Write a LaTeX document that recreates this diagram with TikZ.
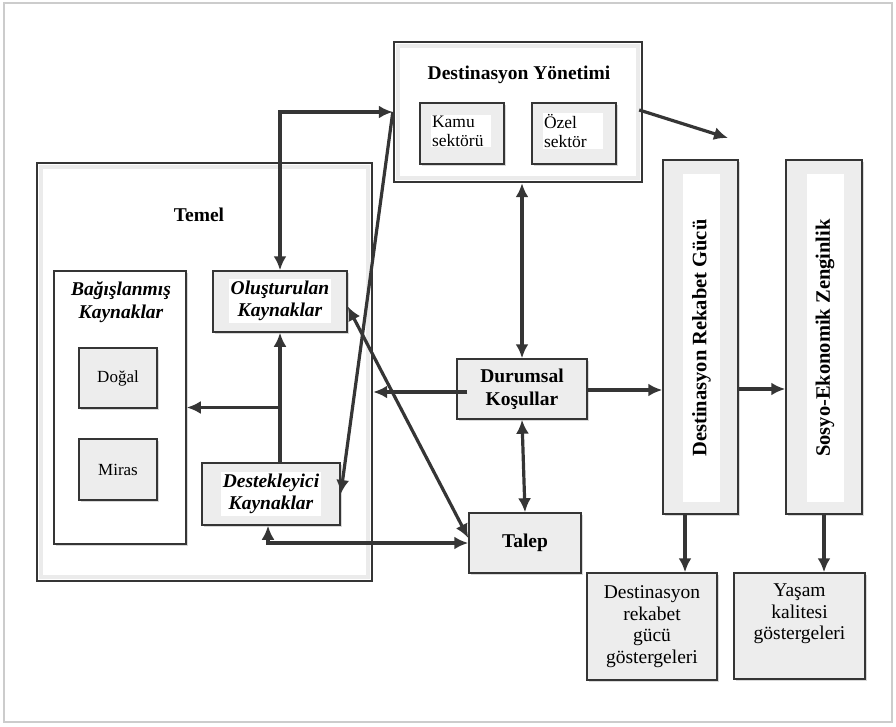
\documentclass[tikz,border=0pt]{standalone}
\usepackage{fontspec}
\setmainfont{Liberation Serif}
\usetikzlibrary{arrows.meta,shadows,calc}
\definecolor{ln}{HTML}{353535}
\definecolor{bx}{HTML}{EDEDED}
\begin{document}
\begin{tikzpicture}[x=1pt,y=-1pt,
 box/.style={draw=ln, line width=1.5pt, fill=bx, inner sep=0pt, drop shadow={opacity=0.3,shadow xshift=2pt,shadow yshift=-2pt}},
 arr/.style={draw=ln, line width=3.2pt, -{Latex[length=14pt,width=13pt]}},
 darr/.style={draw=ln, line width=3.2pt, {Latex[length=14pt,width=13pt]}-{Latex[length=14pt,width=13pt]}},
 bold/.style={font=\fontsize{19.5}{22.5}\selectfont\bfseries, align=center},
 bi/.style={font=\fontsize{19.5}{22.5}\selectfont\bfseries\itshape, align=center},
 reg/.style={font=\fontsize{19.5}{21.5}\selectfont, align=center},
 small/.style={font=\fontsize{17.5}{19}\selectfont, align=left},
 frame/.style={draw=ln, line width=2.4pt, fill=white, inner sep=0pt},
 bevel/.style={draw=gray!16, line width=4pt},
]
\useasboundingbox (0,0) rectangle (896,727);
\draw[gray!40, line width=1.5pt] (4,3) rectangle (892,722);

% frames
\node[frame, minimum width=335pt, minimum height=418pt] (temel) at (204.5,372) {};
\draw[bevel] ($(temel.north west)+(5,5)$) rectangle ($(temel.south east)+(-5,-5)$);
\node[bold] (temelt) at (199,215) {Temel};

\node[frame, minimum width=248pt, minimum height=140pt] (dy) at (518,112) {};
\draw[bevel] ($(dy.north west)+(5,5)$) rectangle ($(dy.south east)+(-5,-5)$);
\node[bold] (dyt) at (519,75) {Destinasyon Yönetimi};

% DY inner boxes
\node[box, minimum width=84pt, minimum height=61pt] (kamu) at (462,133.5) {};
\node[small, fill=white, inner sep=1pt, text width=58pt] (kamut) at (461,131) {Kamu\\sektörü};
\node[box, minimum width=84pt, minimum height=61pt] (ozel) at (574,133.5) {};
\node[small, fill=white, inner sep=1pt, text width=58pt] (ozelt) at (573,131) {Özel\\sektör};

% Temel inner
\node[draw=ln, line width=1.5pt, fill=white, minimum width=132pt, minimum height=273pt, drop shadow={opacity=0.3,shadow xshift=2pt,shadow yshift=-2pt}] (bag) at (120,407.5) {};
\node[bi] (bagt) at (121,302) {Bağışlanmış\\Kaynaklar};
\node[box, minimum width=78pt, minimum height=60pt, font=\fontsize{17}{19}\selectfont] (dogal) at (118,378) {Doğal};
\node[box, minimum width=78pt, minimum height=61pt, font=\fontsize{17}{19}\selectfont] (miras) at (118,469.5) {Miras};

\node[box, minimum width=134pt, minimum height=61pt] (olus) at (280,301.5) {};
\node[bi, fill=white, inner sep=2pt] (olust) at (280,301) {Oluşturulan\\Kaynaklar};
\node[box, minimum width=138pt, minimum height=62pt] (dest) at (271,494) {};
\node[bi, fill=white, inner sep=2pt] (destt) at (271,494) {Destekleyici\\Kaynaklar};

% middle
\node[box, bold, minimum width=130pt, minimum height=60pt] (dk) at (522,389) {Durumsal\\Koşullar};
\node[box, bold, minimum width=112pt, minimum height=60pt] (talep) at (525,543) {Talep};

% right columns
\node[box, minimum width=75pt, minimum height=354pt] (drg) at (700.5,337) {};
\node[fill=white, rotate=90, minimum width=328pt, minimum height=37pt, inner sep=0pt, font=\fontsize{20.5}{24}\selectfont\bfseries] (drgt) at (701.5,338) {Destinasyon Rekabet Gücü};
\node[box, minimum width=76pt, minimum height=354pt] (sez) at (824,337) {};
\node[fill=white, rotate=90, minimum width=328pt, minimum height=37pt, inner sep=0pt, font=\fontsize{20.5}{24}\selectfont\bfseries] (sezt) at (825,338) {Sosyo-Ekonomik Zenginlik};

\node[box, reg, minimum width=130pt, minimum height=107pt] (drgg) at (652,626.5) {Destinasyon\\rekabet\\gücü\\göstergeleri};
\node[box, minimum width=131pt, minimum height=106pt] (yasam) at (799.5,626) {};
\node[reg] (yasamt) at (799.5,614) {Yaşam\\kalitesi\\göstergeleri};

% connectors
\draw[darr] (olus.north) |- (dy.west);
\draw[arr] (dy.west) -- (dest.east);
\draw[darr] ([yshift=-5pt]olus.east) -- ([yshift=5pt]talep.west);
\draw[darr] ([xshift=-3pt]dest.south) |- (talep.west);
\draw[arr] (olus.south |- dest.north) -- (olus.south);
\draw[arr] (olus.south |- bag.east) -- (bag.east);
\coordinate (dkl) at ([xshift=11pt,yshift=-3pt]dk.west);
\draw[arr] (dkl) -- (dkl -| temel.east);
\draw[arr] ([yshift=-1pt]dk.east) -- ([yshift=-1pt]dk.east -| drg.west);
\draw[arr] (drg.east |- dk.east) -- (sez.west |- dk.east);
\draw[darr] (dk.north |- dy.south) -- (dk.north);
\draw[darr] (dk.south) -- (talep.north);
\draw[arr] ([xshift=-15.5pt]drg.south) -- ([xshift=-15.5pt]drg.south |- drgg.north);
\draw[arr] (sez.south) -- (sez.south |- yasam.north);
\coordinate (free) at (728,138);
\draw[arr] ([xshift=-4pt,yshift=2pt]dy.east) -- (free);
\end{tikzpicture}
\end{document}
